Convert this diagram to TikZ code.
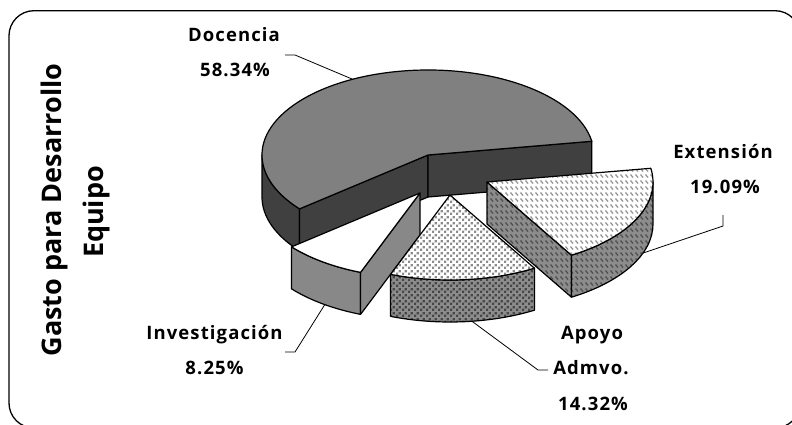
\documentclass[tikz,border=0pt]{standalone}
\usepackage{fontspec}
\setmainfont{Open Sans}
\newfontfamily\lblfont[LetterSpace=6]{Open Sans}
\newfontfamily\ttlfont{Open Sans}
\usetikzlibrary{patterns,calc}
\definecolor{docgray}{RGB}{128,128,128}
\definecolor{docdark}{RGB}{64,64,64}
\definecolor{invside}{RGB}{136,136,136}
\definecolor{apobg}{RGB}{140,140,140}
\definecolor{apodot}{RGB}{70,70,70}
\definecolor{apodotl}{RGB}{140,140,140}
\definecolor{extbg}{RGB}{140,140,140}
\definecolor{extdash}{RGB}{80,80,80}
\definecolor{extdashl}{RGB}{150,150,150}
\pgfdeclarepatternformonly{sqdots}{\pgfqpoint{0pt}{0pt}}{\pgfqpoint{6pt}{6pt}}{\pgfqpoint{6pt}{6pt}}{%
  \pgfpathrectangle{\pgfqpoint{0pt}{0pt}}{\pgfqpoint{2.6pt}{2.6pt}}%
  \pgfpathrectangle{\pgfqpoint{3pt}{3pt}}{\pgfqpoint{2.6pt}{2.6pt}}%
  \pgfusepath{fill}}
\pgfdeclarepatternformonly{diagdash}{\pgfqpoint{-0.5pt}{-0.5pt}}{\pgfqpoint{5.5pt}{6.5pt}}{\pgfqpoint{5pt}{6pt}}{%
  \pgfsetlinewidth{1.3pt}%
  \pgfpathmoveto{\pgfqpoint{0.5pt}{4.5pt}}\pgfpathlineto{\pgfqpoint{3pt}{1.5pt}}%
  \pgfusepath{stroke}}
\tikzset{
  ell/.style={x radius=166pt, y radius=85pt},
  face/.style={draw=black, line width=1.2pt, line join=round},
  docTop/.style={face, fill=docgray},
  docSide/.style={face, fill=docdark},
  invTop/.style={face, fill=white},
  invSide/.style={face, fill=invside},
  apoTop/.style={face, preaction={fill=white}, pattern=sqdots, pattern color=apodotl},
  apoSide/.style={face, preaction={fill=apobg}, pattern=sqdots, pattern color=apodot},
  extTop/.style={face, preaction={fill=white}, pattern=diagdash, pattern color=extdashl},
  extSide/.style={face, preaction={fill=extbg}, pattern=diagdash, pattern color=extdash},
  lbl/.style={font=\lblfont\bfseries\fontsize{18.5}{20}\selectfont, anchor=base, inner sep=0pt},
  ttl/.style={font=\ttlfont\bfseries\fontsize{27}{30}\selectfont, rotate=90, anchor=base, inner sep=0pt},
  leader/.style={draw=black, line width=0.8pt}
}
\begin{document}
\begin{tikzpicture}[x=1pt,y=1pt]
\useasboundingbox (0,0) rectangle (792,-425);
\begin{scope}
  \clip (0,0) rectangle (792,-425);
  \draw[line width=1.3pt, rounded corners=25pt] (9,-10.7) rectangle (800,-428);
\end{scope}

% title
\node[ttl] (t1) at (61,-210) {Gasto para Desarrollo};
\node[ttl] (t2) at (103,-212) {Equipo};

% slice centres
\coordinate (dc) at (428,-155);
\coordinate (ic) at (420,-193);
\coordinate (ac) at (450,-195);
\coordinate (ec) at (487,-182);

% Docencia
\path[docSide] ([shift={(180:166 and 85)}]dc) arc[ell,start angle=180,end angle=219.32]
  -- ++(0,-42) arc[ell,start angle=219.32,end angle=180] -- cycle;
\path[docSide] (dc) -- ([shift={(219.32:166 and 85)}]dc) -- ([shift={(219.32:166 and 85)},yshift=-42pt]dc) -- ([yshift=-42pt]dc) -- cycle;
\path[docSide] (dc) -- ([shift={(9.3:166 and 85)}]dc) -- ([shift={(9.3:166 and 85)},yshift=-42pt]dc) -- ([yshift=-42pt]dc) -- cycle;
\path[docTop] (dc) -- ([shift={(9.3:166 and 85)}]dc) arc[ell,start angle=9.3,end angle=219.32] -- cycle;

% Investigacion
\path[invSide] ([shift={(219.32:166 and 85)}]ic) arc[ell,start angle=219.32,end angle=249.02]
  -- ++(0,-42) arc[ell,start angle=249.02,end angle=219.32] -- cycle;
\path[invSide] (ic) -- ([shift={(249.02:166 and 85)}]ic) -- ([shift={(249.02:166 and 85)},yshift=-42pt]ic) -- ([yshift=-42pt]ic) -- cycle;
\path[invTop] (ic) -- ([shift={(219.32:166 and 85)}]ic) arc[ell,start angle=219.32,end angle=249.02] -- cycle;

% Apoyo
\path[apoSide] ([shift={(249.02:166 and 85)}]ac) arc[ell,start angle=249.02,end angle=300.57]
  -- ++(0,-42) arc[ell,start angle=300.57,end angle=249.02] -- cycle;
\path[apoTop] (ac) -- ([shift={(249.02:166 and 85)}]ac) arc[ell,start angle=249.02,end angle=300.57] -- cycle;

% Extension
\path[extSide] (ec) -- ([shift={(300.57:166 and 85)}]ec) -- ([shift={(300.57:166 and 85)},yshift=-42pt]ec) -- ([yshift=-42pt]ec) -- cycle;
\path[extSide] ([shift={(300.57:166 and 85)}]ec) arc[ell,start angle=300.57,end angle=360]
  -- ++(0,-42) arc[ell,start angle=360,end angle=300.57] -- cycle;
\path[extTop] (ec) -- ([shift={(300.57:166 and 85)}]ec) arc[ell,start angle=300.57,end angle=369.29] -- cycle;

% labels
\node[lbl] (docA) at (234,-41.7) {Docencia};
\node[lbl] (docB) at (235,-76.7) {58.34\%};
\node[lbl] (extA) at (723,-158) {Extensión};
\node[lbl] (extB) at (725,-193) {19.09\%};
\node[lbl] (invA) at (214.5,-339) {Investigación};
\node[lbl] (invB) at (214.5,-374) {8.25\%};
\node[lbl] (apoA) at (592,-339) {Apoyo};
\node[lbl] (apoB) at (591,-374) {Admvo.};
\node[lbl] (apoC) at (593,-410) {14.32\%};

% leaders
\coordinate (dl1) at (285,-55);
\coordinate (dl2) at (295,-55);
\coordinate (dlE) at ([shift={(117:166 and 85)}]dc);
\draw[leader] (dl1) -- (dl2) -- (dlE);
\coordinate (el1) at (723,-215);
\coordinate (el2) at (723,-226);
\coordinate (elE) at ([shift={(340:166 and 85)},yshift=-42pt]ec);
\draw[leader] (el1) -- (el2) -- (elE);
\coordinate (il1) at (285,-352);
\coordinate (il2) at (295,-352);
\coordinate (ilE) at ([shift={(235:166 and 85)},yshift=-42pt]ic);
\draw[leader] (il1) -- (il2) -- (ilE);
\coordinate (al1) at (548,-370);
\coordinate (al2) at (538,-370);
\coordinate (alE) at ([shift={(277.6:166 and 85)},yshift=-42pt]ac);
\draw[leader] (al1) -- (al2) -- (alE);
\end{tikzpicture}
\end{document}
